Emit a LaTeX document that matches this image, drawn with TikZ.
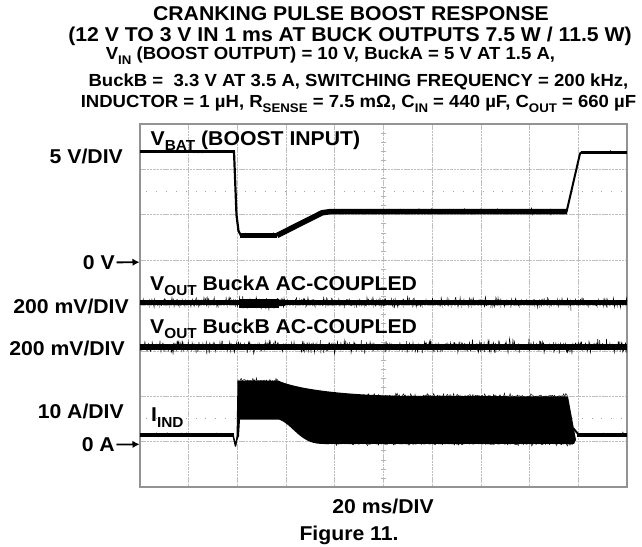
\documentclass[tikz,border=0pt]{standalone}
\usepackage{fontspec}
\setmainfont[FakeStretch=1.06]{Liberation Sans}
\usetikzlibrary{arrows.meta}
\newcommand{\subL}[1]{\raisebox{-5.5pt}{\fontsize{14.5}{14.5}\selectfont #1}}
\newcommand{\subT}[1]{\raisebox{-4.5pt}{\fontsize{12.5}{12.5}\selectfont #1}}
\tikzset{
  lbl/.style={inner sep=0pt, font=\fontsize{20}{20}\selectfont\bfseries},
  ttl/.style={inner sep=0pt, font=\fontsize{20}{20}\selectfont\bfseries},
  sml/.style={inner sep=0pt, font=\fontsize{17.5}{17.5}\selectfont\bfseries},
  gridln/.style={draw=gray!50, line width=0.8pt, dash pattern=on 2.5pt off 0.8pt},
  tickln/.style={draw=gray!60, line width=0.8pt},
  framer/.style={draw=gray!85, line width=1.1pt},
  refdot/.style={draw=gray!70, line width=0.9pt, dash pattern=on 0.9pt off 9pt},
  noise/.style={black, line width=0.45pt},
  zarrow/.style={-{Latex[length=7pt,width=7.5pt]}, line width=1.8pt, shorten <=1.5pt}
}
\begin{document}
\begin{tikzpicture}[x=1pt,y=-1pt]
\pgfmathsetseed{7}
\useasboundingbox[fill=white] (0,0) rectangle (642,546);
% grid
\foreach \i in {1,...,9} \draw[gridln] ({140+48.7*\i},124) -- ({140+48.7*\i},487);
\foreach \j in {1,...,7} \draw[gridln] (140,{124+45.4*\j}) -- (627,{124+45.4*\j});
\foreach \k in {1,...,39} \draw[tickln] (381.4,{124+9.08*\k}) -- (385.6,{124+9.08*\k});
\foreach \k in {1,...,49} \draw[tickln] ({140+9.74*\k},303.5) -- ({140+9.74*\k},307.7);
\draw[refdot] (146,191) -- (627,191);
\draw[refdot] (146,418.5) -- (627,418.5);
\draw[framer] (140,124) rectangle (627,487);
% VBAT trace
\draw[line width=3pt] (140,151.7) -- (234.5,151.7);
\draw[noise] plot[domain=140:234,samples=90] (\x,{151.7+2.5*rand*rand*rand});
\draw[line width=2.2pt, line join=round] (234,151.7) -- (236.5,215) -- (238.5,231) -- (241,235.5);
\draw[line width=4.5pt] (240,235.5) -- (277,235.5);
\draw[noise] plot[domain=240:277,samples=50] (\x,{235.5+4*rand*rand*rand});
\draw[line width=5.5pt, line join=round] (277,235.5) -- (322,212.8) -- (331,211.5) -- (567,211.5);
\draw[noise] plot[domain=331:567,samples=280] (\x,{211.5+5*rand*rand*rand});
\draw[line width=2pt, line join=round] (566.5,212) -- (580,153.5) -- (582,152);
\draw[line width=3pt] (581,152) -- (627,152);
\draw[noise] plot[domain=582:627,samples=45] (\x,{152+2.5*rand*rand*rand});
% BuckA trace
\draw[line width=4.5pt] (140,302.3) -- (627,302.3);
\draw[noise] plot[domain=140:627,samples=900] (\x,{302.3+6*rand*rand});
\draw[line width=9pt] (239,303.6) -- (279,303.6);
\draw[line width=6.5pt] (279,303) -- (285,302.5);
\draw[noise] plot[domain=239:282,samples=70] (\x,{303.6+8*rand*rand});
\draw[noise] (570.5,302) -- (571,311);
% BuckB trace
\draw[line width=6pt] (140,346.5) -- (627,346.5);
\draw[noise] plot[domain=140:627,samples=1000] (\x,{346.5+8.5*rand*rand});
% IND trace
\draw[line width=4.5pt] (140,434.8) -- (234,434.8);
\draw[noise] plot[domain=140:234,samples=110] (\x,{434.8+4*rand*rand*rand});
\draw[line width=1.5pt, line join=round] (233,434.8) -- (235.5,446) -- (237.5,436);
\fill (236.5,441) -- (237.5,380.5) -- (278,380.5) .. controls (292,387) and (330,394.5) .. (400,395.8) -- (568,396.5) -- (576,440) -- (574,443.8) -- (320,443.8) .. controls (300,443) and (292,424) .. (279,419.5) -- (240,419.5) -- (239,436) -- cycle;
\draw[noise] plot[domain=238:278,samples=60] (\x,{380.5+3*rand*rand});
\draw[noise] plot[domain=340:568,samples=320] (\x,{396+3*rand*rand});
\draw[noise] plot[domain=322:574,samples=300] (\x,{443.8+2.5*rand*rand*rand});
\draw[line width=2pt] (573,428) -- (578.5,434.5);
\draw[line width=4pt] (577,434.5) -- (627,434.5);
\draw[noise] plot[domain=578:627,samples=60] (\x,{434.5+3*rand*rand*rand});
% title
\node[ttl, anchor=base] (t1) at (351,20.7) {CRANKING PULSE BOOST RESPONSE};
\node[ttl, anchor=base] (t2) at (350,41.8) {(12 V TO 3 V IN 1 ms AT BUCK OUTPUTS 7.5 W / 11.5 W)};
\node[sml, anchor=base] (t3) at (330.5,59.8) {V\subT{IN} (BOOST OUTPUT) = 10 V, BuckA = 5 V AT 1.5 A,};
\node[sml, anchor=base] (t4) at (358.5,86) {BuckB =\ \ 3.3 V AT 3.5 A, SWITCHING FREQUENCY = 200 kHz,};
\node[sml, anchor=base] (t5) at (358.5,107.5) {INDUCTOR = 1 µH, R\subT{SENSE} = 7.5 mΩ, C\subT{IN} = 440 µF, C\subT{OUT} = 660 µF};
% axis labels
\node[lbl, anchor=base east] (l5v) at (123,163.3) {5 V/DIV};
\node[lbl, anchor=base east] (l0v) at (115,269.3) {0 V};
\node[lbl, anchor=base east] (lma) at (129,313.3) {200 mV/DIV};
\node[lbl, anchor=base east] (lmb) at (125,355) {200 mV/DIV};
\node[lbl, anchor=base east] (l10a) at (124,418) {10 A/DIV};
\node[lbl, anchor=base east] (l0a) at (115,451.5) {0 A};
\coordinate (zv) at (139.5,262.2);
\coordinate (za) at (139.5,444.3);
\draw[zarrow] (l0v.east) -- (zv);
\draw[zarrow] (l0a.east) -- (za);
% trace labels
\node[lbl, anchor=base west] (vbat) at (150.5,145) {V\subL{BAT} (BOOST INPUT)};
\node[lbl, anchor=base west] (vouta) at (150,290) {V\subL{OUT} BuckA AC-COUPLED};
\node[lbl, anchor=base west] (voutb) at (150,333.3) {V\subL{OUT} BuckB AC-COUPLED};
\node[lbl, anchor=base west] (iind) at (151,421.7) {I\subL{IND}};
\node[lbl, anchor=base] (tdiv) at (383,513.3) {20 ms/DIV};
\node[lbl, anchor=base] (fig) at (349,540) {Figure 11.};
\end{tikzpicture}
\end{document}
